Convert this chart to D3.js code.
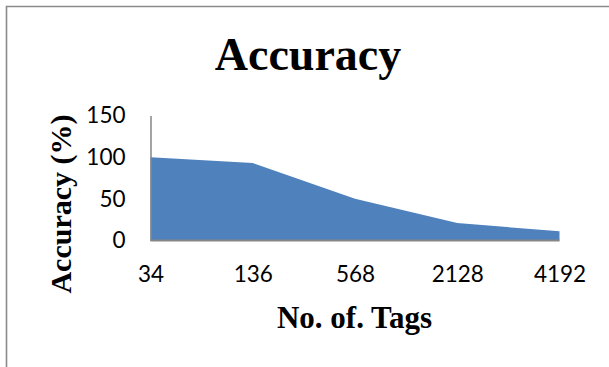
<!DOCTYPE html>
<html>
<head>
<meta charset="utf-8">
<script src="https://cdn.jsdelivr.net/npm/d3@7"></script>
<style>
  html, body { margin: 0; padding: 0; background: #fff; }
  svg { display: block; }
</style>
</head>
<body>
<svg id="chart" width="609" height="367"></svg>
<script>
// Accuracy by number of tags
const categories = ["34", "136", "568", "2128", "4192"];
const accuracy = [100, 93, 50, 21, 11];
const yTicks = [0, 50, 100, 150];

const svg = d3.select("#chart");
const W = 609, H = 367;

// chart frame
svg.append("path")
  .attr("d", `M6.5,${H} V6.5 H${W}`)
  .attr("fill", "none")
  .attr("stroke", "#8a8a8a")
  .attr("stroke-width", 1.6);

const x = d3.scalePoint().domain(categories).range([150.5, 559.5]);
const y = d3.scaleLinear().domain([0, 150]).range([240.5, 115.5]);

const data = categories.map((c, i) => ({ c, v: accuracy[i] }));

// filled area
svg.append("path")
  .datum(data)
  .attr("fill", "#4F81BD")
  .attr("d", d3.area()
    .x(d => x(d.c))
    .y0(y(0))
    .y1(d => y(d.v)));

const tickFont = "Lato, 'Open Sans', sans-serif";

// y axis
const yAxis = svg.append("g")
  .attr("transform", `translate(${x(categories[0])},0)`)
  .call(d3.axisLeft(y).tickValues(yTicks).tickSize(0).tickPadding(25));
yAxis.select(".domain").attr("stroke", "#868686").attr("stroke-width", 1.5);
yAxis.selectAll("text")
  .attr("font-family", tickFont)
  .attr("font-size", 22.5)
  .attr("fill", "#000");

// x axis
const xAxis = svg.append("g")
  .attr("transform", `translate(0,${y(0)})`)
  .call(d3.axisBottom(x).tickSize(0).tickPadding(26));
xAxis.select(".domain").attr("stroke", "#868686").attr("stroke-width", 2)
  .attr("d", `M${x(categories[0])},0H${x(categories[categories.length - 1])}`);
xAxis.selectAll("text")
  .attr("font-family", tickFont)
  .attr("font-size", 22.5)
  .attr("fill", "#000");

// titles
const serif = "'Liberation Serif', 'Times New Roman', serif";
svg.append("text")
  .attr("x", 308).attr("y", 70)
  .attr("text-anchor", "middle")
  .attr("font-family", serif).attr("font-weight", "bold")
  .attr("font-size", 46)
  .text("Accuracy");

svg.append("text")
  .attr("x", 354.5).attr("y", 327.5)
  .attr("text-anchor", "middle")
  .attr("font-family", serif).attr("font-weight", "bold")
  .attr("font-size", 31)
  .text("No. of. Tags");

svg.append("text")
  .attr("transform", "translate(71,204) rotate(-90)")
  .attr("text-anchor", "middle")
  .attr("font-family", serif).attr("font-weight", "bold")
  .attr("font-size", 30)
  .text("Accuracy (%)");
</script>
</body>
</html>
